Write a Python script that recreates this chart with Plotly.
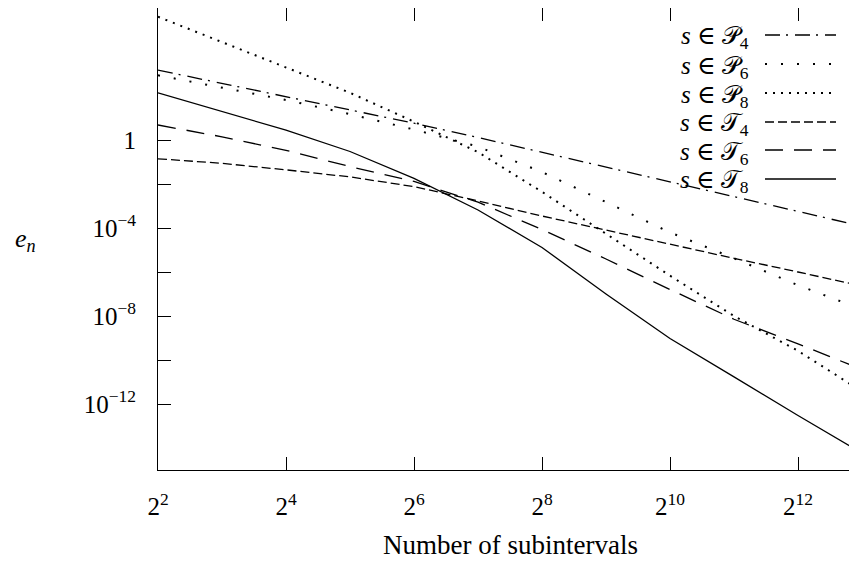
import math
import plotly.graph_objects as go

# ---- data ----
subintervals = [4, 8, 16, 32, 64, 128, 256, 512, 1024, 2048, 4096, 8192]
err_P4 = [1.5e3, 3.7e2, 91, 23, 5.8, 1.3, 0.28, 6.0e-2, 1.3e-2, 2.8e-3, 5.8e-4, 1.2e-4]
err_P6 = [8.7e2, 2.4e2, 66, 15, 3.0, 0.5, 3.5e-2, 1.5e-3, 6.3e-5, 4.2e-6, 2.5e-7, 2.0e-8]
err_P8 = [4.0e5, 2.8e4, 1.9e3, 1.4e2, 6.8, 0.28, 4.4e-3, 5.6e-5, 6.8e-7, 1.0e-8, 2.6e-10, 3.7e-12]
err_T4 = [0.14, 8.7e-2, 4.4e-2, 2.1e-2, 7.6e-3, 1.7e-3, 3.5e-4, 7.9e-5, 1.8e-5, 4.2e-6, 1.0e-6, 2.3e-7]
err_T6 = [4.8, 1.4, 0.34, 6.2e-2, 1.3e-2, 1.5e-3, 8.5e-5, 3.9e-6, 1.6e-7, 7.1e-9, 5.4e-10, 3.7e-11]
err_T8 = [1.4e2, 20, 2.8, 0.30, 1.8e-2, 6.6e-4, 1.3e-5, 1.0e-7, 9.5e-10, 1.7e-11, 3.0e-13, 5.9e-15]

series_names = ["<i>s</i> ∈ 𝒫<sub>4</sub>", "<i>s</i> ∈ 𝒫<sub>6</sub>", "<i>s</i> ∈ 𝒫<sub>8</sub>",
                "<i>s</i> ∈ 𝒯<sub>4</sub>", "<i>s</i> ∈ 𝒯<sub>6</sub>", "<i>s</i> ∈ 𝒯<sub>8</sub>"]
series_values = [err_P4, err_P6, err_P8, err_T4, err_T6, err_T8]

x_tickvals = [4, 16, 64, 256, 1024, 4096]
x_ticktext = ["2<sup>2</sup>", "2<sup>4</sup>", "2<sup>6</sup>", "2<sup>8</sup>", "2<sup>10</sup>", "2<sup>12</sup>"]
y_tickvals = [1e-12, 1e-10, 1e-8, 1e-6, 1e-4, 1e-2, 1]
y_ticktext = ["10<sup>−12</sup>", "", "10<sup>−8</sup>", "", "10<sup>−4</sup>", "", "1"]

# ---- styles ----
styles = [
    dict(dash="15px,6px,2px,7px", width=1.3),
    dict(dash="2px,14px", width=2.0),
    dict(dash="2px,6px", width=2.0),
    dict(dash="9px,4px", width=1.3),
    dict(dash="18px,11px", width=1.3),
    dict(dash="solid", width=1.3),
]

# page body has an 8px margin; figure coordinates are page coordinates minus 8
OFF = 8
W, H = 857 - OFF, 565 - OFF
ML, MT, MB, MR = 158 - OFF, 0, 95, 0
PW, PH = W - ML - MR, H - MT - MB
FONT = "Liberation Serif, DejaVu Serif, serif"

def px_x(page_x):
    return (page_x - OFF - ML) / PW

def px_y(page_y):
    return (H - MB - (page_y - OFF)) / PH

fig = go.Figure()
for name, vals, st in zip(series_names, series_values, styles):
    fig.add_trace(go.Scatter(x=subintervals, y=vals, mode="lines", name=name,
                             line=dict(color="black", width=st["width"], dash=st["dash"]),
                             showlegend=False))
# right-side ticks
fig.add_trace(go.Scatter(x=[], y=[], yaxis="y2", showlegend=False))

x_right_log2 = 2 + PW / 64.0
xrange = [math.log10(4), x_right_log2 * math.log10(2)]
yrange = [-15, 6]

# custom legend (text left of line sample)
row_px = [35, 64, 93, 122, 150, 179]
for name, st, ry in zip(series_names, styles, row_px):
    yp = px_y(ry)
    fig.add_annotation(xref="paper", yref="paper", x=px_x(751), y=yp,
                       xanchor="right", yanchor="middle", text=name, showarrow=False,
                       font=dict(size=25, family=FONT, color="black"), yshift=-3)
    fig.add_shape(type="line", xref="paper", yref="paper",
                  x0=px_x(765), x1=px_x(836), y0=yp, y1=yp,
                  line=dict(color="black", width=st["width"], dash=st["dash"]))

fig.add_annotation(xref="paper", yref="paper", x=px_x(25), y=px_y(240),
                   text="<i>e<sub>n</sub></i>", showarrow=False, xanchor="center", yanchor="middle",
                   font=dict(size=26, family=FONT, color="black"))
fig.add_annotation(xref="paper", yref="paper", x=px_x(510), y=px_y(545),
                   text="Number of subintervals", showarrow=False, xanchor="center", yanchor="middle",
                   font=dict(size=27, family=FONT, color="black"))

fig.update_layout(
    width=W, height=H,
    margin=dict(l=ML, r=MR, t=MT, b=MB, pad=0),
    plot_bgcolor="white", paper_bgcolor="white",
    font=dict(family=FONT, size=25, color="black"),
    xaxis=dict(type="log", range=xrange, tickvals=x_tickvals, ticktext=x_ticktext,
               ticks="inside", ticklen=13, tickwidth=1, tickcolor="black",
               showline=True, linecolor="black", linewidth=1, mirror="ticks",
               showgrid=False, zeroline=False, ticklabelstandoff=14,
               tickfont=dict(size=25, family=FONT)),
    yaxis=dict(type="log", range=yrange, tickvals=y_tickvals, ticktext=y_ticktext,
               ticks="inside", ticklen=13, tickwidth=1, tickcolor="black",
               showline=True, linecolor="black", linewidth=1,
               showgrid=False, zeroline=False, ticklabelstandoff=16,
               tickfont=dict(size=25, family=FONT)),
    yaxis2=dict(type="log", range=yrange, tickvals=y_tickvals, overlaying="y", side="right",
                ticks="inside", ticklen=7, tickwidth=1, tickcolor="black",
                showticklabels=False, showline=False, showgrid=False, zeroline=False),
)

fig.write_html("out.html")
